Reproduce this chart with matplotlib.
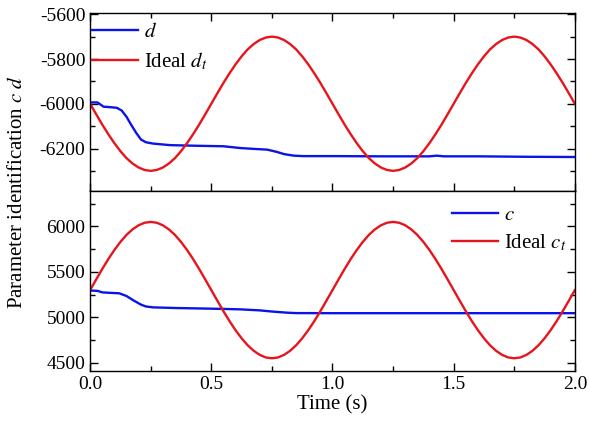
import matplotlib
matplotlib.use('Agg')
import matplotlib.pyplot as plt
from matplotlib.ticker import MultipleLocator

plt.rcParams['font.family'] = ['Liberation Serif', 'DejaVu Serif']
plt.rcParams['mathtext.fontset'] = 'stix'
plt.rcParams['axes.unicode_minus'] = False

# ideal curves, read every 0.025 s (one period = 40 readings)
t_ideal = [i * 0.025 for i in range(81)]
d_ideal_1 = [-6000, -6047, -6093, -6136, -6176, -6212, -6243, -6267, -6285, -6296,
             -6300, -6296, -6285, -6267, -6243, -6212, -6176, -6136, -6093, -6047,
             -6000, -5953, -5907, -5864, -5824, -5788, -5757, -5733, -5715, -5704,
             -5700, -5704, -5715, -5733, -5757, -5788, -5824, -5864, -5907, -5953]
d_ideal = d_ideal_1 + d_ideal_1 + [-6000]
c_ideal_1 = [5300, 5417, 5532, 5641, 5741, 5830, 5907, 5968, 6013, 6041,
             6050, 6041, 6013, 5968, 5907, 5830, 5741, 5641, 5532, 5417,
             5300, 5183, 5068, 4959, 4859, 4770, 4693, 4632, 4587, 4559,
             4550, 4559, 4587, 4632, 4693, 4770, 4859, 4959, 5068, 5183]
c_ideal = c_ideal_1 + c_ideal_1 + [5300]

# identified d
t_d = [0.0, 0.03, 0.045, 0.055, 0.08, 0.11, 0.13, 0.15, 0.17, 0.19, 0.21, 0.23, 0.26,
       0.33, 0.45, 0.55, 0.62, 0.68, 0.73, 0.77, 0.80, 0.84, 0.88, 1.0, 1.2, 1.4,
       1.43, 1.46, 1.6, 1.8, 2.0]
d_id = [-5994, -5994, -6005, -6013, -6015, -6018, -6030, -6058, -6095, -6130, -6160,
        -6172, -6178, -6185, -6188, -6190, -6198, -6202, -6205, -6215, -6225, -6232,
        -6234, -6234, -6235, -6235, -6232, -6235, -6235, -6237, -6238]

# identified c
t_c = [0.0, 0.03, 0.05, 0.08, 0.12, 0.15, 0.18, 0.21, 0.23, 0.26, 0.35, 0.45, 0.55,
       0.62, 0.70, 0.76, 0.81, 0.85, 1.0, 1.5, 2.0]
c_id = [5295, 5292, 5275, 5270, 5265, 5235, 5185, 5140, 5120, 5110, 5103, 5098, 5093,
        5088, 5077, 5062, 5052, 5047, 5046, 5046, 5046]

fig = plt.figure(figsize=(5.89, 4.24), dpi=100)
ax1 = fig.add_axes([0.153, 0.5495, 0.823, 0.4195])
ax2 = fig.add_axes([0.153, 0.125, 0.823, 0.4245])

ax1.plot(t_d, d_id, color='#0a14e6', lw=1.7, label=r'$d$')
ax1.plot(t_ideal, d_ideal, color='#e8141c', lw=1.7, label=r'Ideal $d_t$')
ax1.set_ylim(-6390, -5595)
ax1.yaxis.set_major_locator(MultipleLocator(200))
ax1.yaxis.set_minor_locator(MultipleLocator(100))
ax1.legend(loc='upper left', frameon=False, fontsize=15, handlelength=2.2,
           borderaxespad=0.0, borderpad=0.1, labelspacing=0.4, handletextpad=0.3,
           bbox_to_anchor=(0.0, 0.96))
ax1.tick_params(labelbottom=False)

ax2.plot(t_c, c_id, color='#0a14e6', lw=1.7, label=r'$c$')
ax2.plot(t_ideal, c_ideal, color='#e8141c', lw=1.7, label=r'Ideal $c_t$')
ax2.set_ylim(4410, 6390)
ax2.yaxis.set_major_locator(MultipleLocator(500))
ax2.yaxis.set_minor_locator(MultipleLocator(250))
ax2.legend(loc='upper right', frameon=False, fontsize=15, handlelength=2.2,
           borderaxespad=0.3, borderpad=0.1, labelspacing=0.35, handletextpad=0.3,
           bbox_to_anchor=(1.0, 0.965))
ax2.set_xlabel('Time (s)', fontsize=15, labelpad=2)

for ax in (ax1, ax2):
    ax.set_xlim(0, 2.0)
    ax.xaxis.set_major_locator(MultipleLocator(0.5))
    ax.xaxis.set_minor_locator(MultipleLocator(0.25))
    ax.tick_params(which='both', direction='in', right=True, labelsize=14)
    ax.tick_params(which='major', length=6, width=1)
    ax.tick_params(which='minor', length=3.5, width=1)
    for s in ax.spines.values():
        s.set_linewidth(1.0)
ax1.tick_params(which='both', top=True)
ax2.tick_params(which='both', top=False)
ax2.set_xticks([0.0, 0.5, 1.0, 1.5, 2.0])
ax2.set_xticklabels(['0.0', '0.5', '1.0', '1.5', '2.0'])

fig.text(0.03, 0.547, r'Parameter identification $c$ $d$', rotation=90,
         va='center', ha='center', fontsize=15)

fig.savefig('out.png', dpi=100)
